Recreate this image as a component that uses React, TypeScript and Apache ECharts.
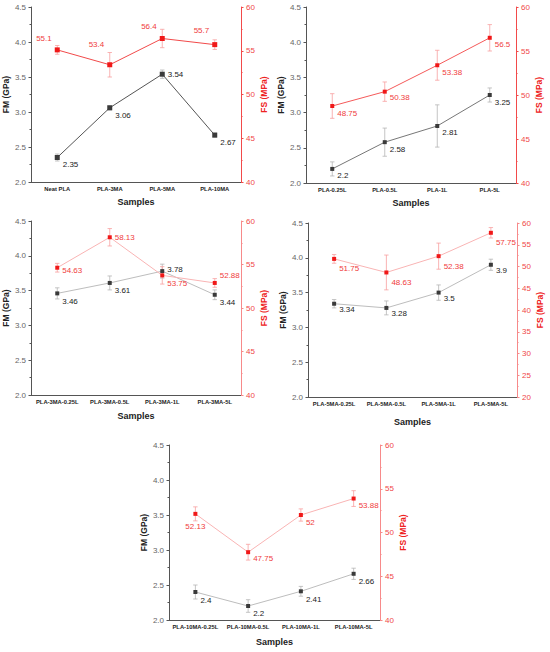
import React, { useEffect, useRef } from "react";
import * as echarts from "echarts";

// ---------- data ----------
const cats1 = ["Neat PLA", "PLA-3MA", "PLA-5MA", "PLA-10MA"];
const fm1 = [2.35, 3.06, 3.54, 2.67];
const fmErr1 = [0.05, 0.03, 0.06, 0.03];
const fs1 = [55.1, 53.4, 56.4, 55.7];
const fsErr1 = [0.5, 1.4, 1.05, 0.55];

const cats2 = ["PLA-0.25L", "PLA-0.5L", "PLA-1L", "PLA-5L"];
const fm2 = [2.2, 2.58, 2.81, 3.25];
const fmErr2 = [0.1, 0.2, 0.3, 0.1];
const fs2 = [48.75, 50.38, 53.38, 56.5];
const fsErr2 = [1.4, 1.1, 1.7, 1.5];

const cats3 = ["PLA-3MA-0.25L", "PLA-3MA-0.5L", "PLA-3MA-1L", "PLA-3MA-5L"];
const fm3 = [3.46, 3.61, 3.78, 3.44];
const fmErr3 = [0.08, 0.1, 0.1, 0.07];
const fs3 = [54.63, 58.13, 53.75, 52.88];
const fsErr3 = [0.5, 1.0, 1.0, 0.5];

const cats4 = ["PLA-5MA-0.25L", "PLA-5MA-0.5L", "PLA-5MA-1L", "PLA-5MA-5L"];
const fm4 = [3.34, 3.28, 3.5, 3.9];
const fmErr4 = [0.06, 0.1, 0.11, 0.08];
const fs4 = [51.75, 48.63, 52.38, 57.75];
const fsErr4 = [1.0, 4.0, 3.0, 1.2];

const cats5 = ["PLA-10MA-0.25L", "PLA-10MA-0.5L", "PLA-10MA-1L", "PLA-10MA-5L"];
const fm5 = [2.4, 2.2, 2.41, 2.66];
const fmErr5 = [0.1, 0.09, 0.07, 0.08];
const fs5 = [52.13, 47.75, 52, 53.88];
const fsErr5 = [0.8, 0.9, 0.7, 0.9];

const fmAxis = { min: 2.0, max: 4.5, interval: 0.5 };
const fsAxisA = { min: 40, max: 60, interval: 5 };
const fsAxisB = { min: 20, max: 60, interval: 5 };

// ---------- layout / style (not data) ----------
const FONT = "'Liberation Sans', Arial, sans-serif";
const FM_LABEL = "#222222";
const FS_LABEL = "#f03c3c";

type Panel = {
  cats: string[];
  fm: number[];
  fmErr: number[];
  fs: number[];
  fsErr: number[];
  fsAxis: { min: number; max: number; interval: number };
  grid: { left: number; top: number; width: number; height: number };
  nameGapX: number;
  fmLine: string;
  fsLine: string;
  rightAxis: string;
  fmLbl: [string, number][];
  fsLbl: [string, number][];
  sym: number;
};

const panels: Panel[] = [
  {
    cats: cats1, fm: fm1, fmErr: fmErr1, fs: fs1, fsErr: fsErr1, fsAxis: fsAxisA,
    grid: { left: 31, top: 7, width: 210, height: 175 }, nameGapX: 15,
    fmLine: "#555555", fsLine: "#f24a4a", rightAxis: "#f24a4a",
    fmLbl: [["right", 7], ["right", 8], ["right", 0], ["right", 7]],
    fsLbl: [["left", -11], ["left", -20], ["left", -12], ["left", -14]],
    sym: 5,
  },
  {
    cats: cats2, fm: fm2, fmErr: fmErr2, fs: fs2, fsErr: fsErr2, fsAxis: fsAxisA,
    grid: { left: 306, top: 7, width: 210, height: 176 }, nameGapX: 15,
    fmLine: "#777777", fsLine: "#f55a5a", rightAxis: "#f24a4a",
    fmLbl: [["right", 7], ["right", 7], ["right", 7], ["right", 7]],
    fsLbl: [["right", 7], ["right", 6], ["right", 7], ["right", 7]],
    sym: 4,
  },
  {
    cats: cats3, fm: fm3, fmErr: fmErr3, fs: fs3, fsErr: fsErr3, fsAxis: fsAxisA,
    grid: { left: 31, top: 221, width: 210, height: 174 }, nameGapX: 16,
    fmLine: "#bdbdbd", fsLine: "#f9b4b4", rightAxis: "#f78a8a",
    fmLbl: [["right", 8], ["right", 8], ["right", -2], ["right", 8]],
    fsLbl: [["right", 3], ["right", 0], ["right", 8], ["right", -7]],
    sym: 4,
  },
  {
    cats: cats4, fm: fm4, fmErr: fmErr4, fs: fs4, fsErr: fsErr4, fsAxis: fsAxisB,
    grid: { left: 308, top: 223, width: 209, height: 174 }, nameGapX: 20,
    fmLine: "#bdbdbd", fsLine: "#f9b4b4", rightAxis: "#f78a8a",
    fmLbl: [["right", 6], ["right", 6], ["right", 6], ["right", 6]],
    fsLbl: [["right", 10], ["right", 10], ["right", 10], ["right", 10]],
    sym: 4,
  },
  {
    cats: cats5, fm: fm5, fmErr: fmErr5, fs: fs5, fsErr: fsErr5, fsAxis: fsAxisA,
    grid: { left: 169, top: 445, width: 211, height: 175 }, nameGapX: 17,
    fmLine: "#bdbdbd", fsLine: "#f9b4b4", rightAxis: "#f78a8a",
    fmLbl: [["right", 8], ["right", 7], ["right", 8], ["right", 8]],
    fsLbl: [["bottom", 4], ["right", 6], ["right", 7], ["right", 7]],
    sym: 4,
  },
];

function errSeries(xi: number, yi: number, vals: number[], errs: number[], color: string) {
  return {
    type: "custom",
    xAxisIndex: xi,
    yAxisIndex: yi,
    z: 1,
    silent: true,
    data: vals.map((v, i) => [i, v, errs[i]]),
    encode: { x: 0, y: 1 },
    renderItem: (params: any, api: any) => {
      const x = api.value(0);
      const y = api.value(1);
      const e = api.value(2);
      const hi = api.coord([x, y + e]);
      const lo = api.coord([x, y - e]);
      const w = 2.2;
      const st = { stroke: color, lineWidth: 0.8 };
      return {
        type: "group",
        children: [
          { type: "line", shape: { x1: hi[0], y1: hi[1], x2: lo[0], y2: lo[1] }, style: st },
          { type: "line", shape: { x1: hi[0] - w, y1: hi[1], x2: hi[0] + w, y2: hi[1] }, style: st },
          { type: "line", shape: { x1: lo[0] - w, y1: lo[1], x2: lo[0] + w, y2: lo[1] }, style: st },
        ],
      };
    },
  };
}

function labelSeries(
  xi: number, yi: number, vals: number[], lbl: [string, number][], color: string, sym: number,
) {
  return {
    type: "custom",
    xAxisIndex: xi,
    yAxisIndex: yi,
    z: 5,
    silent: true,
    data: vals.map((v, i) => [i, v]),
    encode: { x: 0, y: 1 },
    renderItem: (params: any, api: any) => {
      const idx = params.dataIndex;
      const v = vals[idx];
      const pt = api.coord([api.value(0), api.value(1)]);
      const [pos, dy] = lbl[idx];
      const gap = sym / 2 + 3;
      let x = pt[0];
      let y = pt[1] + dy;
      let align = "left";
      let va = "middle";
      if (pos === "right") {
        x = pt[0] + gap;
      } else if (pos === "left") {
        x = pt[0] - gap;
        align = "right";
      } else {
        y = pt[1] + gap + dy;
        align = "center";
        va = "top";
      }
      return {
        type: "text",
        x,
        y,
        style: {
          text: String(v),
          fill: color,
          fontFamily: FONT,
          fontSize: 8,
          align,
          verticalAlign: va,
        },
      };
    },
  };
}

function lineSeries(
  name: string, xi: number, yi: number, vals: number[],
  lineColor: string, markColor: string, sym: number,
) {
  return {
    type: "line",
    name,
    xAxisIndex: xi,
    yAxisIndex: yi,
    z: 3,
    symbol: "rect",
    symbolSize: sym,
    lineStyle: { color: lineColor, width: 1 },
    itemStyle: { color: markColor },
    emphasis: { disabled: true },
    label: { show: false },
    data: vals,
  };
}

function buildOption() {
  const grid: any[] = [];
  const xAxis: any[] = [];
  const yAxis: any[] = [];
  const series: any[] = [];

  panels.forEach((p, k) => {
    grid.push({ ...p.grid, containLabel: false });
    xAxis.push({
      type: "category",
      gridIndex: k,
      data: p.cats,
      boundaryGap: true,
      name: "Samples",
      nameLocation: "middle",
      nameGap: p.nameGapX,
      nameTextStyle: { fontFamily: FONT, fontWeight: "bold", fontSize: 9, color: "#222" },
      axisLine: { lineStyle: { color: "#555", width: 1 } },
      axisTick: { alignWithLabel: true, length: 2.5, lineStyle: { color: "#555" } },
      axisLabel: { fontFamily: FONT, fontWeight: "bold", fontSize: 5.8, color: "#222", margin: 4, interval: 0 },
      splitLine: { show: false },
    });
    yAxis.push({
      type: "value",
      gridIndex: k,
      position: "left",
      ...fmAxis,
      name: "FM (GPa)",
      nameLocation: "middle",
      nameGap: 17,
      nameRotate: 90,
      nameTextStyle: { fontFamily: FONT, fontWeight: "bold", fontSize: 8.5, color: "#222" },
      axisLine: { show: true, lineStyle: { color: "#555", width: 1 } },
      axisTick: { show: true, length: 2.5, lineStyle: { color: "#555" } },
      minorTick: { show: true, splitNumber: 2, length: 1.5, lineStyle: { color: "#555" } },
      axisLabel: {
        fontFamily: FONT, fontSize: 8, color: "#666", margin: 5,
        formatter: (v: number) => v.toFixed(1),
      },
      splitLine: { show: false },
    });
    yAxis.push({
      type: "value",
      gridIndex: k,
      position: "right",
      ...p.fsAxis,
      name: "FS (MPa)",
      nameLocation: "middle",
      nameGap: 18,
      nameRotate: 90,
      nameTextStyle: { fontFamily: FONT, fontWeight: "bold", fontSize: 8.5, color: "#ee2222" },
      axisLine: { show: true, lineStyle: { color: p.rightAxis, width: 1 } },
      axisTick: { show: true, length: 2.5, lineStyle: { color: p.rightAxis } },
      minorTick: { show: true, splitNumber: 2, length: 1.5, lineStyle: { color: p.rightAxis } },
      axisLabel: { fontFamily: FONT, fontSize: 8, color: "#f04848", margin: 5 },
      splitLine: { show: false },
    });

    const xi = k;
    const yl = k * 2;
    const yr = k * 2 + 1;

    series.push(errSeries(xi, yl, p.fm, p.fmErr, "#b5b5b5"));
    series.push(errSeries(xi, yr, p.fs, p.fsErr, "#f7a0a0"));
    series.push(lineSeries("FM" + k, xi, yl, p.fm, p.fmLine, "#3a3a3a", p.sym));
    series.push(lineSeries("FS" + k, xi, yr, p.fs, p.fsLine, "#f01818", p.sym));
    series.push(labelSeries(xi, yl, p.fm, p.fmLbl, FM_LABEL, p.sym));
    series.push(labelSeries(xi, yr, p.fs, p.fsLbl, FS_LABEL, p.sym));
  });

  return {
    animation: false,
    backgroundColor: "#ffffff",
    textStyle: { fontFamily: FONT },
    grid,
    xAxis,
    yAxis,
    series,
  };
}

export default function App() {
  const ref = useRef<HTMLDivElement>(null);
  useEffect(() => {
    if (!ref.current) return;
    const chart = echarts.init(ref.current, undefined, { renderer: "svg" });
    chart.setOption(buildOption() as any);
    return () => chart.dispose();
  }, []);
  return (
    <div
      ref={ref}
      style={{ position: "absolute", left: 0, top: 0, width: 550, height: 652, background: "#fff" }}
    />
  );
}
